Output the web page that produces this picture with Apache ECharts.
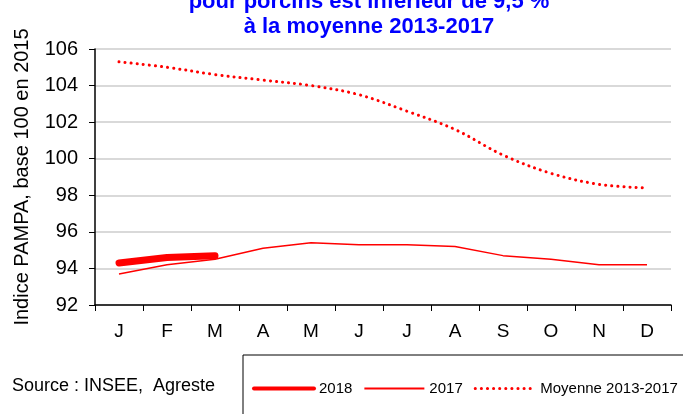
<!DOCTYPE html>
<html lang="fr" style="height: 100%">
<head>
    <meta charset="utf-8">
</head>
<body style="height: 100%; margin: 0; background: #fff">
<div id="container" style="width: 683px; height: 414px"></div>

<script type="text/javascript" src="https://cdn.jsdelivr.net/npm/echarts@6/dist/echarts.min.js"></script>
<script type="text/javascript">
    // données
    var months = ['J', 'F', 'M', 'A', 'M', 'J', 'J', 'A', 'S', 'O', 'N', 'D'];
    var values2018 = [94.3, 94.6, 94.7];
    var values2017 = [93.7, 94.2, 94.5, 95.1, 95.4, 95.3, 95.3, 95.2, 94.7, 94.5, 94.2, 94.2];
    var moyenne = [105.3, 105.0, 104.6, 104.3, 104.0, 103.5, 102.6, 101.6, 100.2, 99.2, 98.6, 98.4];

    var dom = document.getElementById('container');
    var myChart = echarts.init(dom);
    var font = 'Arial, "Liberation Sans", sans-serif';
    var dots = [0.1, 6];

    var option = {
        animation: false,
        title: [
            {
                text: 'pour porcins est inférieur de 9,5 %\nà la moyenne 2013-2017',
                left: 364,
                top: -16,
                textAlign: 'center',
                textStyle: {
                    color: '#0000ff',
                    fontFamily: font,
                    fontSize: 22,
                    fontWeight: 'bold',
                    lineHeight: 25
                }
            },
            {
                text: 'Source : INSEE,  Agreste',
                left: 12,
                top: 377,
                padding: 0,
                textStyle: {
                    color: '#000',
                    fontFamily: font,
                    fontSize: 18,
                    fontWeight: 'normal'
                }
            }
        ],
        legend: {
            left: 243,
            top: 355,
            width: 470,
            padding: [26, 10, 40, 9],
            borderColor: '#000',
            borderWidth: 1,
            itemWidth: 60,
            itemHeight: 14,
            itemGap: 11,
            textStyle: {
                fontFamily: font,
                fontSize: 15,
                color: '#000'
            },
            data: [
                { name: '2018', itemStyle: { opacity: 0 }, lineStyle: { width: 4 } },
                { name: '2017', itemStyle: { opacity: 0 }, lineStyle: { width: 2 } },
                { name: 'Moyenne 2013-2017', itemStyle: { opacity: 0 }, lineStyle: { width: 3, type: dots, cap: 'round' } }
            ]
        },
        grid: {
            left: 95,
            right: 12,
            top: 49,
            bottom: 109
        },
        xAxis: {
            type: 'category',
            data: months,
            boundaryGap: true,
            axisLine: { lineStyle: { color: '#000', width: 1.5 } },
            axisTick: { show: true, length: 6, lineStyle: { color: '#000' } },
            axisLabel: {
                color: '#000',
                fontFamily: font,
                fontSize: 19,
                margin: 17
            }
        },
        yAxis: {
            type: 'value',
            min: 92,
            max: 106,
            interval: 2,
            name: 'Indice PAMPA, base 100 en 2015',
            nameLocation: 'middle',
            nameGap: 63,
            nameTextStyle: {
                color: '#000',
                fontFamily: font,
                fontSize: 20
            },
            axisLine: { show: true, lineStyle: { color: '#000', width: 1.5 } },
            axisTick: { show: true, length: 6, lineStyle: { color: '#000' } },
            axisLabel: {
                color: '#000',
                fontFamily: font,
                fontSize: 20,
                margin: 17
            },
            splitLine: { lineStyle: { color: '#d9d9d9', width: 2 } }
        },
        series: [
            {
                name: '2018',
                type: 'line',
                data: values2018,
                symbol: 'none',
                lineStyle: { color: '#ff0000', width: 7, cap: 'round' },
                itemStyle: { color: '#ff0000' },
                z: 5
            },
            {
                name: '2017',
                type: 'line',
                data: values2017,
                symbol: 'none',
                lineStyle: { color: '#ff0000', width: 1.5 },
                itemStyle: { color: '#ff0000' }
            },
            {
                name: 'Moyenne 2013-2017',
                type: 'line',
                data: moyenne,
                symbol: 'none',
                smooth: 0.35,
                lineStyle: { color: '#ff0000', width: 3, type: dots, cap: 'round' },
                itemStyle: { color: '#ff0000' }
            }
        ]
    };

    myChart.setOption(option);
    window.addEventListener('resize', myChart.resize);
</script>
</body>
</html>
